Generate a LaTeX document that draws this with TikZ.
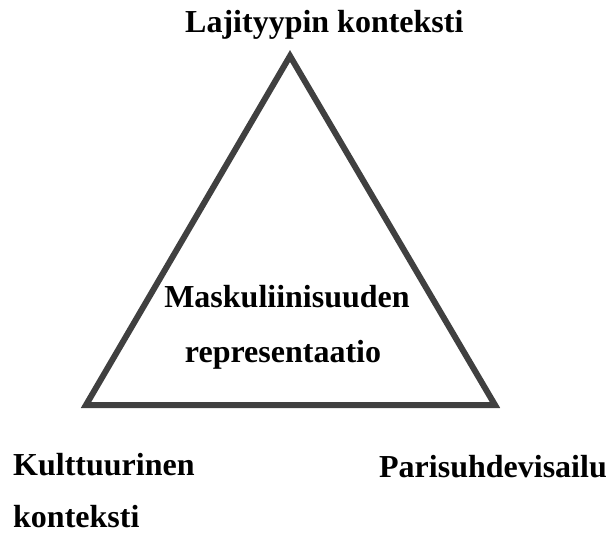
\documentclass[tikz,border=0pt]{standalone}
\usepackage{fontspec}
\setmainfont{Liberation Serif}

\begin{document}
\begin{tikzpicture}[x=1pt, y=-1pt,
  nodes = {inner sep=0pt, font=\fontsize{32}{38}\selectfont\bfseries},
  side/.style = {line width=6pt, draw=black!75, line join=miter}
  ]
  \useasboundingbox (0,0) rectangle (610,534);
  % corners of the triangle
  \coordinate (top)   at (290,56);
  \coordinate (left)  at (86,405);
  \coordinate (right) at (495,405);
  \draw [side] (top) -- (left) -- (right) -- cycle;

  \node (genre)  [anchor=base west] at (185,33)  {Lajityypin konteksti};
  \node (mask)   [anchor=base]      at (287,308) {Maskuliinisuuden};
  \node (repr)   [anchor=base]      at (283,362) {representaatio};
  \node (cult)   [anchor=base west] at (13,475)  {Kulttuurinen};
  \node (cult2)  [anchor=base west] at (13,527)  {konteksti};
  \node (couple) [anchor=base east] at (607,477) {Parisuhdevisailu};
\end{tikzpicture}
\end{document}
